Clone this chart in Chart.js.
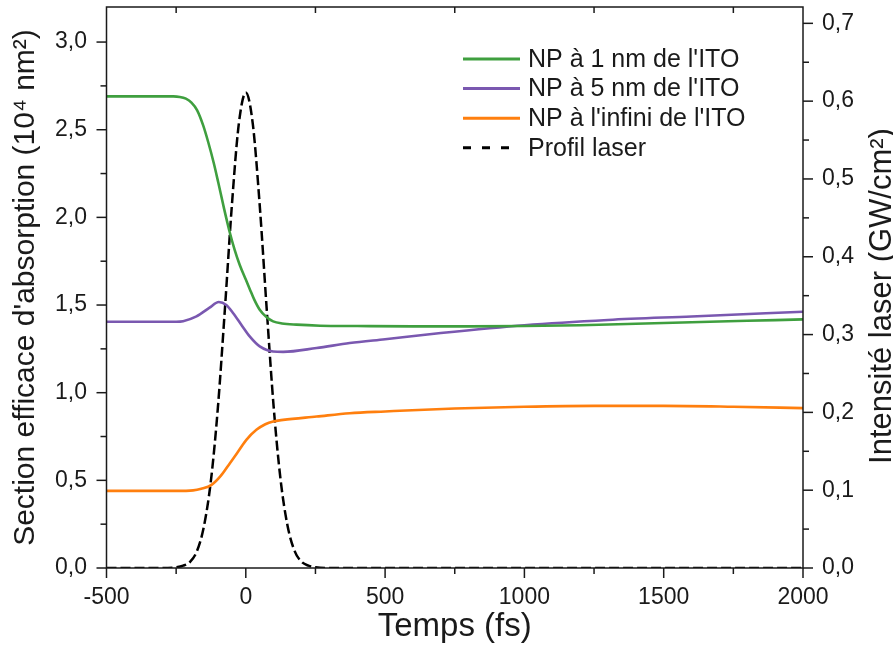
<!DOCTYPE html>
<html>
<head>
<meta charset="utf-8">
<script src="https://cdn.jsdelivr.net/npm/chart.js@4"></script>
<style>
  html, body { margin: 0; padding: 0; background: #fff; }
</style>
</head>
<body>
<canvas id="c" width="893" height="659"></canvas>
<script>
// series
const timesGreen = [-500, -300, -260, -237, -215, -195, -175, -153, -135, -115, -99, -78, -57, -40, -22, 0, 14, 30, 50, 75, 98, 130, 182, 267, 400, 600, 800, 1000, 1200, 1400, 1600, 1800, 2000];
const valsGreen  = [2.69, 2.69, 2.69, 2.687, 2.677, 2.655, 2.612, 2.525, 2.43, 2.31, 2.2, 2.05, 1.911, 1.815, 1.73, 1.645, 1.592, 1.532, 1.473, 1.43, 1.407, 1.395, 1.388, 1.382, 1.38, 1.378, 1.378, 1.38, 1.385, 1.393, 1.402, 1.41, 1.418];

const timesPurple = [-500, -250, -225, -177, -130, -97, -70, -46, -15, 14, 50, 98, 134, 254, 373, 500, 700, 1000, 1300, 1600, 2000];
const valsPurple  = [1.405, 1.405, 1.408, 1.435, 1.485, 1.517, 1.5, 1.455, 1.385, 1.321, 1.264, 1.235, 1.233, 1.255, 1.283, 1.305, 1.34, 1.385, 1.415, 1.435, 1.462];

const timesOrange = [-500, -250, -189, -160, -123, -90, -57, -25, 2, 38, 70, 98, 134, 254, 373, 500, 750, 1000, 1250, 1500, 1750, 2000];
const valsOrange  = [0.44, 0.44, 0.443, 0.452, 0.474, 0.525, 0.598, 0.67, 0.731, 0.788, 0.82, 0.836, 0.845, 0.864, 0.883, 0.893, 0.91, 0.92, 0.925, 0.925, 0.92, 0.912];

const timesLaser = [-500, -300, -250, -225, -200, -175, -150, -125, -100, -75, -50, -25, 0, 25, 50, 75, 100, 125, 150, 175, 200, 225, 250, 300, 2000];
const valsLaser  = [0, 0, 0.001, 0.003, 0.008, 0.022, 0.054, 0.113, 0.207, 0.333, 0.466, 0.571, 0.611, 0.571, 0.466, 0.333, 0.207, 0.113, 0.054, 0.022, 0.008, 0.003, 0.001, 0, 0];

const seriesLabels = ["NP à 1 nm de l'ITO", "NP à 5 nm de l'ITO", "NP à l'infini de l'ITO", "Profil laser"];

// tick labels
const xTicks = [-500, 0, 500, 1000, 1500, 2000];
const yTicks = [0, 0.5, 1.0, 1.5, 2.0, 2.5, 3.0];
const y2Ticks = [0, 0.1, 0.2, 0.3, 0.4, 0.5, 0.6, 0.7];

const pts = (ts, vs) => ts.map((t, i) => ({ x: t, y: vs[i] }));
const comma = v => v.toFixed(1).replace('.', ',');
const FONT = "'Liberation Sans', Arial, sans-serif";
const INK = '#1a1a1a';

const frame = {
  id: 'frame',
  afterDatasetsDraw(chart) {
    const { ctx, chartArea: a, scales } = chart;
    ctx.save();
    ctx.strokeStyle = INK;
    ctx.lineWidth = 1.5;
    ctx.strokeRect(a.left, a.top, a.right - a.left, a.bottom - a.top);
    const line = (x1, y1, x2, y2) => { ctx.beginPath(); ctx.moveTo(x1, y1); ctx.lineTo(x2, y2); ctx.stroke(); };

    xTicks.forEach((v, i) => {
      const x = scales.x.getPixelForValue(v);
      line(x, a.bottom, x, a.bottom + 10);
      if (i < xTicks.length - 1) {
        const m = scales.x.getPixelForValue((v + xTicks[i + 1]) / 2);
        line(m, a.bottom, m, a.bottom + 6);
        line(m, a.top, m, a.top + 6);
      }
    });
    yTicks.forEach(v => {
      const y = scales.y.getPixelForValue(v);
      line(a.left - 10, y, a.left, y);
      const m = scales.y.getPixelForValue(v + 0.25);
      if (m > a.top) line(a.left - 6, m, a.left, m);
    });
    y2Ticks.forEach(v => {
      const y = scales.y2.getPixelForValue(v);
      line(a.right, y, a.right + 10, y);
      const m = scales.y2.getPixelForValue(v + 0.05);
      if (m > a.top) line(a.right, m, a.right + 6, m);
    });

    // legend
    ctx.font = '25px ' + FONT;
    ctx.fillStyle = INK;
    ctx.textBaseline = 'middle';
    chart.data.datasets.forEach((ds, i) => {
      const y = 59 + i * 29.6;
      ctx.strokeStyle = ds.borderColor;
      ctx.lineWidth = 3;
      ctx.setLineDash(ds.borderDash && ds.borderDash.length ? [8, 11] : []);
      line(463, y, 520, y);
      ctx.setLineDash([]);
      ctx.fillText(ds.label, 528, y + 1);
    });

    // right axis title, reading bottom to top
    ctx.font = '31px ' + FONT;
    ctx.textAlign = 'center';
    ctx.translate(882, 296);
    ctx.rotate(-Math.PI / 2);
    ctx.fillText('Intensité laser (GW/cm²)', 0, 0);
    ctx.restore();
  }
};

new Chart(document.getElementById('c'), {
  type: 'line',
  data: {
    datasets: [
      { label: seriesLabels[0], data: pts(timesGreen, valsGreen), borderColor: '#3f9f3f', yAxisID: 'y' },
      { label: seriesLabels[1], data: pts(timesPurple, valsPurple), borderColor: '#7a58b0', yAxisID: 'y' },
      { label: seriesLabels[2], data: pts(timesOrange, valsOrange), borderColor: '#ff7f0e', yAxisID: 'y' },
      { label: seriesLabels[3], data: pts(timesLaser, valsLaser), borderColor: '#000000', borderDash: [10, 4], borderWidth: 2.5, yAxisID: 'y2' }
    ]
  },
  options: {
    responsive: false,
    animation: false,
    layout: { padding: { left: 0, right: 0, top: 7, bottom: 0 } },
    elements: {
      point: { radius: 0 },
      line: { borderWidth: 2.6, cubicInterpolationMode: 'monotone', fill: false }
    },
    plugins: { legend: { display: false }, tooltip: { enabled: false } },
    scales: {
      x: {
        type: 'linear', min: -500, max: 2000,
        afterBuildTicks: s => { s.ticks = xTicks.map(v => ({ value: v })); },
        afterFit: s => { s.height = 91; s.paddingLeft = 0; s.paddingRight = 0; },
        grid: { display: false, drawTicks: true, tickLength: 10 },
        border: { display: false },
        ticks: { padding: 6, color: INK, font: { family: FONT, size: 23 }, callback: v => String(v) },
        title: { display: true, text: 'Temps (fs)', color: INK, font: { family: FONT, size: 33 }, padding: { top: 0, bottom: 12 } }
      },
      y: {
        type: 'linear', position: 'left', min: 0, max: 3.2,
        afterBuildTicks: s => { s.ticks = yTicks.map(v => ({ value: v })); },
        afterFit: s => { s.width = 106.5; s.paddingTop = 0; s.paddingBottom = 0; },
        grid: { display: false, drawTicks: true, tickLength: 10 },
        border: { display: false },
        ticks: { padding: 9.5, color: INK, font: { family: FONT, size: 23 }, callback: v => comma(v) },
        title: { display: true, text: "Section efficace d'absorption (10⁴ nm²)", color: INK, font: { family: FONT, size: 30 }, padding: { top: 8, bottom: 0 } }
      },
      y2: {
        type: 'linear', position: 'right', min: 0, max: 0.721,
        afterBuildTicks: s => { s.ticks = y2Ticks.map(v => ({ value: v })); },
        afterFit: s => { s.width = 90; s.paddingTop = 0; s.paddingBottom = 0; },
        grid: { display: false, drawTicks: true, tickLength: 10 },
        border: { display: false },
        ticks: { padding: 9, color: INK, font: { family: FONT, size: 23 }, callback: v => comma(v) }
      }
    }
  },
  plugins: [frame]
});
</script>
</body>
</html>
